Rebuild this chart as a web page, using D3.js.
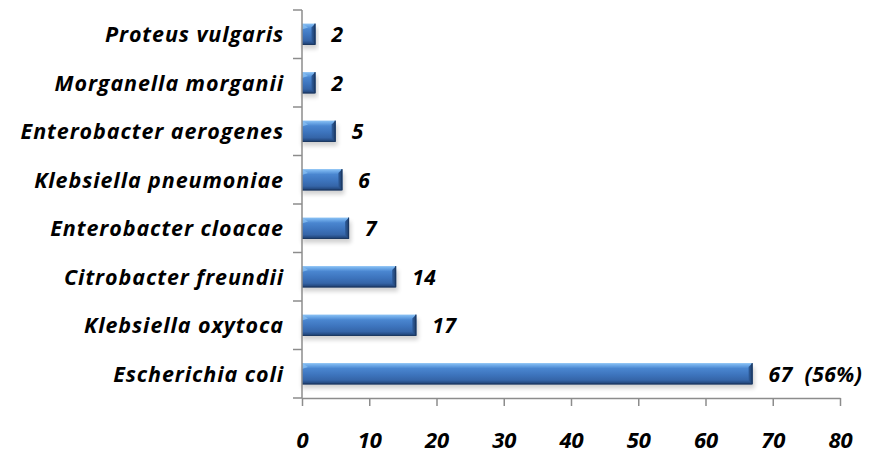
<!DOCTYPE html>
<html>
<head>
<meta charset="utf-8">
<script src="https://cdn.jsdelivr.net/npm/d3@7"></script>
<style>
  html, body { margin: 0; padding: 0; background: #ffffff; }
  svg { display: block; }
  text { font-family: "Open Sans", "Noto Sans", sans-serif; font-weight: bold; font-style: italic; fill: #000; }
</style>
</head>
<body>
<svg id="chart" width="871" height="453"></svg>
<script>
// Isolates by species, listed top to bottom
const species = [
  "Proteus vulgaris",
  "Morganella morganii",
  "Enterobacter aerogenes",
  "Klebsiella pneumoniae",
  "Enterobacter cloacae",
  "Citrobacter freundii",
  "Klebsiella oxytoca",
  "Escherichia coli"
];
const counts = [2, 2, 5, 6, 7, 14, 17, 67];
const valueLabels = ["2", "2", "5", "6", "7", "14", "17", "67  (56%)"];
const xTicks = [0, 10, 20, 30, 40, 50, 60, 70, 80];

const svg = d3.select("#chart");
const margin = { left: 302, right: 31, top: 10, bottom: 55 };
const W = 871, H = 453;

const x = d3.scaleLinear().domain([0, 80]).range([margin.left, W - margin.right]);
const y = d3.scaleBand().domain(species).range([margin.top, H - margin.bottom]).paddingInner(0.56).paddingOuter(0.28);

const defs = svg.append("defs");
const grad = defs.append("linearGradient").attr("id", "barGrad").attr("x1", 0).attr("y1", 0).attr("x2", 0).attr("y2", 1);
[[0, "#8cc3f5"], [0.12, "#6aa6e6"], [0.25, "#4a86d0"], [0.55, "#3d74bd"], [0.8, "#3565a8"], [0.9, "#28508a"], [1, "#1e3f6e"]]
  .forEach(([o, c]) => grad.append("stop").attr("offset", o).attr("stop-color", c));
const endGrad = defs.append("linearGradient").attr("id", "endGrad").attr("x1", 0).attr("y1", 0).attr("x2", 1).attr("y2", 0);
endGrad.append("stop").attr("offset", 0).attr("stop-color", "#2f5d9c");
endGrad.append("stop").attr("offset", 1).attr("stop-color", "#1d3c68");
const shadow = defs.append("filter").attr("id", "shadow").attr("x", "-10%").attr("y", "-50%").attr("width", "120%").attr("height", "250%");
shadow.append("feGaussianBlur").attr("stdDeviation", 2.2);

const bh = y.bandwidth();
const bars = svg.append("g").selectAll("g").data(species).join("g");

// soft drop shadow under each bar
bars.append("rect")
  .attr("x", x(0))
  .attr("y", d => y(d) + 4)
  .attr("width", (d, i) => x(counts[i]) - x(0) + 2)
  .attr("height", bh)
  .attr("fill", "#000")
  .attr("opacity", 0.18)
  .attr("filter", "url(#shadow)");

// bar body
bars.append("rect")
  .attr("x", x(0))
  .attr("y", d => y(d))
  .attr("width", (d, i) => x(counts[i]) - x(0))
  .attr("height", bh)
  .attr("fill", "url(#barGrad)");

// bevelled right end
const bev = 4;
bars.append("path")
  .attr("d", (d, i) => {
    const xe = x(counts[i]), y0 = y(d), y1 = y0 + bh;
    return `M${xe - bev},${y0 + bev}L${xe},${y0}L${xe},${y1}L${xe - bev},${y1 - bev}Z`;
  })
  .attr("fill", "url(#endGrad)");
// bevelled left corner
bars.append("path")
  .attr("d", d => {
    const xs = x(0), y0 = y(d);
    return `M${xs},${y0}L${xs + bev + 2},${y0 + bev}L${xs},${y0 + bev + 2}Z`;
  })
  .attr("fill", "#8cc3f5")
  .attr("opacity", 0.7);
// dark outline along bottom and right
bars.append("path")
  .attr("d", (d, i) => {
    const xe = x(counts[i]), y0 = y(d), y1 = y0 + bh;
    return `M${x(0)},${y1 - 0.5}L${xe - 0.5},${y1 - 0.5}L${xe - 0.5},${y0}`;
  })
  .attr("fill", "none")
  .attr("stroke", "#1b3760")
  .attr("stroke-width", 1);

// value labels
bars.append("text")
  .attr("x", (d, i) => x(counts[i]) + 16)
  .attr("y", d => y(d) + bh / 2)
  .attr("dy", "0.37em")
  .attr("font-size", 21)
  .attr("letter-spacing", 0.5)
  .attr("xml:space", "preserve")
  .style("white-space", "pre")
  .text((d, i) => valueLabels[i]);

// category labels
svg.append("g").selectAll("text").data(species).join("text")
  .attr("x", 284)
  .attr("y", d => y(d) + bh / 2)
  .attr("dy", "0.38em")
  .attr("text-anchor", "end")
  .attr("font-size", 21.5)
  .attr("letter-spacing", 0.9)
  .text(d => d);

// axes
const axisColor = "#8c8c8c";
const yAxisG = svg.append("g");
yAxisG.append("line")
  .attr("x1", x(0)).attr("x2", x(0))
  .attr("y1", margin.top).attr("y2", H - margin.bottom)
  .attr("stroke", axisColor).attr("stroke-width", 1.5);
const bounds = d3.range(species.length + 1).map(i => margin.top + (H - margin.top - margin.bottom) * i / species.length);
yAxisG.selectAll("line.tick").data(bounds).join("line")
  .attr("class", "tick")
  .attr("x1", x(0) - 9).attr("x2", x(0))
  .attr("y1", d => d).attr("y2", d => d)
  .attr("stroke", axisColor).attr("stroke-width", 1.5);

const xAxis = d3.axisBottom(x).tickValues(xTicks).tickSize(8).tickSizeOuter(0).tickFormat(d3.format("d"));
const xAxisG = svg.append("g").attr("transform", `translate(0,${H - margin.bottom})`).call(xAxis);
xAxisG.select(".domain").attr("stroke", axisColor).attr("stroke-width", 1.5);
xAxisG.selectAll(".tick line").attr("stroke", axisColor).attr("stroke-width", 1.5);
xAxisG.selectAll(".tick text")
  .attr("y", 50)
  .attr("dy", 0)
  .attr("font-size", 22)
  .style("font-family", "'Open Sans', 'Noto Sans', sans-serif")
  .style("font-weight", "bold")
  .style("font-style", "italic")
  .attr("fill", "#000");
</script>
</body>
</html>
